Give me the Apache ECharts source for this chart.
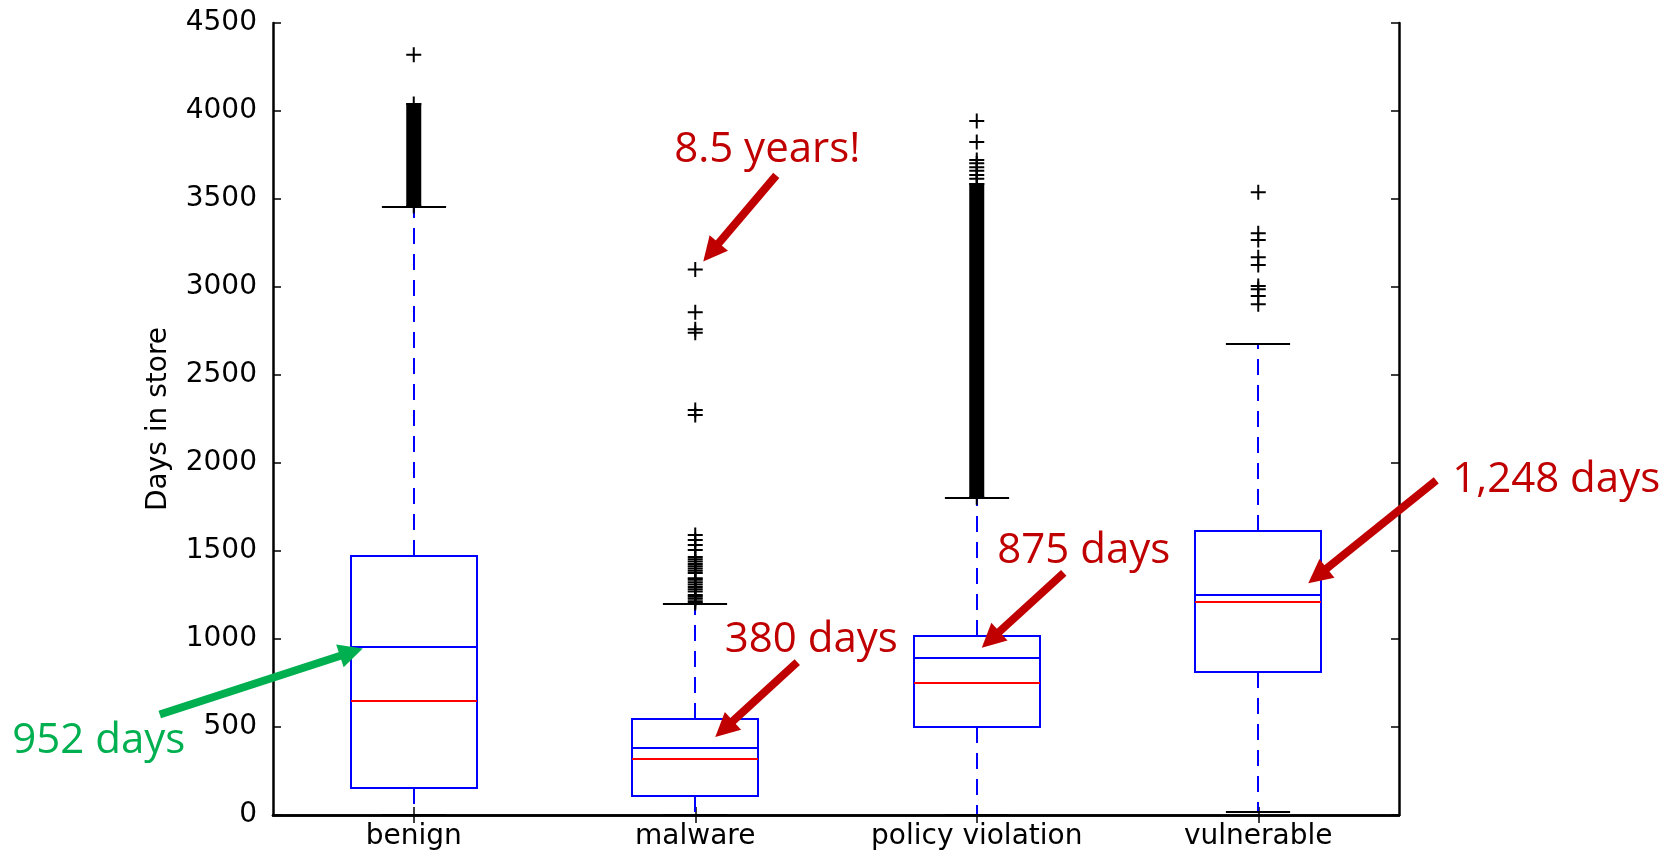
<!DOCTYPE html>
<html>
<head>
<meta charset="utf-8">
<script src="https://cdn.jsdelivr.net/npm/echarts@6/dist/echarts.min.js"></script>
<style>
  html, body { margin: 0; padding: 0; background: #ffffff; }
  #chart { width: 1671px; height: 854px; }
</style>
</head>
<body>
<div id="chart"></div>
<script>
// ---------------- data ----------------
const categories = ['benign', 'malware', 'policy violation', 'vulnerable'];
const whiskerLow  = [0, 0, 0, 15];
const q1          = [153, 106, 502, 814];
const median      = [648, 318, 752, 1212];
const q3          = [1472, 544, 1019, 1612];
const whiskerHigh = [3453, 1200, 1799, 2678];
const mean        = [952, 380, 893, 1248];

const outliersBenign = [3460, 4040, 4320];
const outliersMalware = [1205, 1215, 1228, 1240, 1250, 1270, 1283, 1296, 1310, 1323, 1336, 1345,
  1375, 1388, 1400, 1413, 1426, 1440, 1453, 1466, 1506, 1534, 1562, 1591,
  2273, 2301, 2740, 2760, 2856, 3100];
const outliersPolicy = [1806, 3585, 3615, 3636, 3661, 3680, 3703, 3722, 3824, 3943];
const outliersVulnerable = [2902, 2949, 2987, 3006, 3125, 3169, 3267, 3305, 3538];

// ranges where outlier markers are so dense they merge into a solid column
const denseOutlierLow  = [3460, null, 1806, null];
const denseOutlierHigh = [4040, null, 3585, null];

const yTicks = [0, 500, 1000, 1500, 2000, 2500, 3000, 3500, 4000, 4500];

// annotations: label, category index, value pointed at
const annotations = [
  { text: '952 days',   cat: 0, value: 952,  color: '#00b050' },
  { text: '8.5 years!', cat: 1, value: 3100, color: '#c00000' },
  { text: '380 days',   cat: 1, value: 380,  color: '#c00000' },
  { text: '875 days',   cat: 2, value: 893,  color: '#c00000' },
  { text: '1,248 days', cat: 3, value: 1248, color: '#c00000' }
];
// pixel layout of each annotation (tip offset from data point, tail & text relative to tip)
const annLayout = [
  { tip: [-51, 1],  tail: [-203, 66],  label: [-264, 93] },
  { tip: [8, -8],   tail: [73, -86],   label: [64, -111] },
  { tip: [20, -11], tail: [82, -75],   label: [96, -97] },
  { tip: [5, -10],  tail: [82, -75],   label: [102, -97] },
  { tip: [50, -12], tail: [128, -103], label: [248, -103] }
];

// ---------------- build ----------------
const boxData = categories.map((c, i) =>
  [i, whiskerLow[i], q1[i], median[i], q3[i], whiskerHigh[i], mean[i]]);
const outlierLists = [outliersBenign, outliersMalware, outliersPolicy, outliersVulnerable];
const outlierData = [];
outlierLists.forEach((list, i) => list.forEach(v => outlierData.push([i, v])));
const denseData = [];
categories.forEach((c, i) => {
  if (denseOutlierLow[i] != null) denseData.push([i, denseOutlierLow[i], denseOutlierHigh[i]]);
});

const BLUE = '#0000ff', RED = '#ff0000', BLACK = '#000000';
const plusPath = 'path://M6.5,0H8.5V6.5H15V8.5H8.5V15H6.5V8.5H0V6.5H6.5Z';

function renderBox(params, api) {
  const i = api.value(0);
  const band = api.size([1, 0])[0];
  const boxW = band * 0.45;
  const capW = band * 0.228;
  const Y = v => Math.round(api.coord([i, v])[1]);
  const yLow = Y(api.value(1)), yQ1 = Y(api.value(2)), yMed = Y(api.value(3));
  const yQ3 = Y(api.value(4)), yHigh = Y(api.value(5)), yMean = Y(api.value(6));
  const cx = Math.round(api.coord([i, 0])[0]);
  const x0 = Math.round(cx - boxW / 2), x1 = Math.round(cx + boxW / 2);
  const dash = { stroke: BLUE, lineWidth: 2, lineDash: [16, 10], fill: null };
  return {
    type: 'group',
    children: [
      { type: 'line', shape: { x1: cx, y1: yQ3, x2: cx, y2: yHigh }, style: dash },
      { type: 'line', shape: { x1: cx, y1: yQ1, x2: cx, y2: yLow }, style: dash },
      { type: 'line', shape: { x1: cx - capW / 2, y1: yHigh, x2: cx + capW / 2, y2: yHigh },
        style: { stroke: BLACK, lineWidth: 2 } },
      { type: 'line', shape: { x1: cx - capW / 2, y1: yLow, x2: cx + capW / 2, y2: yLow },
        style: { stroke: BLACK, lineWidth: 2 } },
      { type: 'rect', shape: { x: x0, y: yQ3, width: x1 - x0, height: yQ1 - yQ3 },
        style: { stroke: BLUE, lineWidth: 2, fill: null } },
      { type: 'line', shape: { x1: x0, y1: yMed, x2: x1, y2: yMed },
        style: { stroke: RED, lineWidth: 2 } },
      { type: 'line', shape: { x1: x0, y1: yMean, x2: x1, y2: yMean },
        style: { stroke: BLUE, lineWidth: 2 } }
    ]
  };
}

function renderDense(params, api) {
  const i = api.value(0);
  const pLo = api.coord([i, api.value(1)]);
  const pHi = api.coord([i, api.value(2)]);
  const w = 15;
  return {
    type: 'rect',
    shape: { x: pLo[0] - w / 2, y: pHi[1] - 1, width: w, height: pLo[1] - pHi[1] + 2 },
    style: { fill: BLACK }
  };
}

const chart = echarts.init(document.getElementById('chart'), null, { renderer: 'canvas' });
const axisFont = { fontFamily: 'DejaVu Sans', fontSize: 28, color: '#000' };
const axisLine = { show: true, lineStyle: { color: '#000', width: 2.5 } };
const plainNum = v => String(v);

chart.setOption({
  animation: false,
  backgroundColor: '#ffffff',
  grid: { left: 273, right: 272, top: 23, bottom: 39, containLabel: false },
  xAxis: [
    { type: 'category', data: categories, position: 'bottom', boundaryGap: true,
      axisLine: axisLine,
      axisTick: { show: true, inside: true, length: 8, alignWithLabel: true, lineStyle: { color: '#000', width: 1.5 } },
      axisLabel: Object.assign({ margin: 8 }, axisFont),
      splitLine: { show: false } },
    { type: 'category', data: categories, position: 'top', boundaryGap: true,
      axisLine: axisLine,
      axisTick: { show: true, inside: true, length: 8, alignWithLabel: true, lineStyle: { color: '#000', width: 1.5 } },
      axisLabel: { show: false }, splitLine: { show: false } }
  ],
  yAxis: [
    { type: 'value', min: yTicks[0], max: yTicks[yTicks.length - 1], interval: yTicks[1] - yTicks[0],
      position: 'left',
      name: 'Days in store', nameLocation: 'middle', nameGap: 100, nameRotate: 90,
      nameTextStyle: { fontFamily: 'DejaVu Sans', fontSize: 28, color: '#000' },
      axisLine: axisLine,
      axisTick: { show: true, inside: true, length: 8, lineStyle: { color: '#000', width: 1.5 } },
      axisLabel: Object.assign({ margin: 16, formatter: plainNum }, axisFont),
      splitLine: { show: false } },
    { type: 'value', min: yTicks[0], max: yTicks[yTicks.length - 1], interval: yTicks[1] - yTicks[0],
      position: 'right',
      axisLine: axisLine,
      axisTick: { show: true, inside: true, length: 8, lineStyle: { color: '#000', width: 1.5 } },
      axisLabel: { show: false }, splitLine: { show: false } }
  ],
  series: [
    { type: 'custom', name: 'boxes', renderItem: renderBox, data: boxData,
      encode: { x: 0, y: [1, 2, 3, 4, 5, 6] }, z: 2, silent: true },
    { type: 'custom', name: 'dense', renderItem: renderDense, data: denseData,
      encode: { x: 0, y: [1, 2] }, z: 3, silent: true },
    { type: 'scatter', name: 'outliers', data: outlierData, symbol: plusPath, symbolSize: 15,
      itemStyle: { color: BLACK, opacity: 1 }, z: 4, silent: true }
  ]
});

// annotations anchored to data coordinates
const graphics = [];
annotations.forEach((a, k) => {
  const L = annLayout[k];
  const p = chart.convertToPixel({ xAxisIndex: 0, yAxisIndex: 0 }, [a.cat, a.value]);
  const tip = [p[0] + L.tip[0], p[1] + L.tip[1]];
  const tail = [tip[0] + L.tail[0], tip[1] + L.tail[1]];
  const dx = tip[0] - tail[0], dy = tip[1] - tail[1];
  const len = Math.hypot(dx, dy);
  const ux = dx / len, uy = dy / len;
  const headLen = 24, headHalf = 12;
  const base = [tip[0] - ux * headLen, tip[1] - uy * headLen];
  const left = [base[0] - uy * headHalf, base[1] + ux * headHalf];
  const right = [base[0] + uy * headHalf, base[1] - ux * headHalf];
  const shaftEnd = [tip[0] - ux * (headLen - 3), tip[1] - uy * (headLen - 3)];
  graphics.push({ type: 'line', silent: true, z: 10,
    shape: { x1: tail[0], y1: tail[1], x2: shaftEnd[0], y2: shaftEnd[1] },
    style: { stroke: a.color, lineWidth: 8 } });
  graphics.push({ type: 'polygon', silent: true, z: 10,
    shape: { points: [tip, left, right] }, style: { fill: a.color } });
  graphics.push({ type: 'text', silent: true, z: 10,
    x: tip[0] + L.label[0], y: tip[1] + L.label[1],
    style: { text: a.text, fill: a.color, font: '42px "Open Sans"', align: 'center', verticalAlign: 'middle' } });
});
chart.setOption({ graphic: graphics });
</script>
</body>
</html>
